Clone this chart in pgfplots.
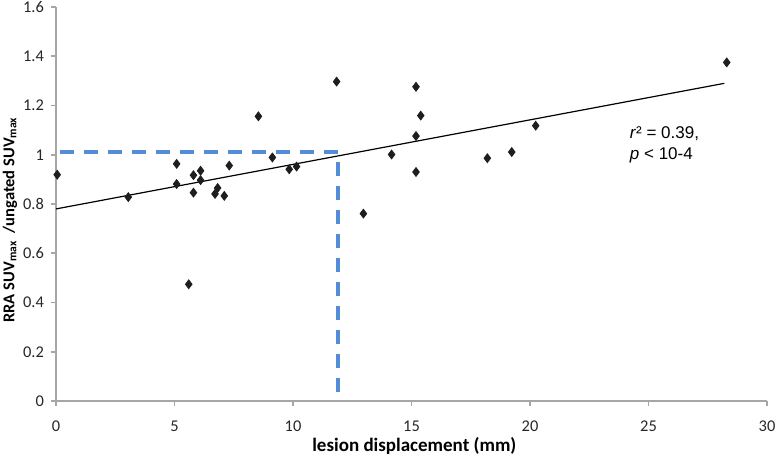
\documentclass[border=0pt]{standalone}
\usepackage{pgfplots}
\pgfplotsset{compat=1.18}
\usepackage{fontspec}
\setmainfont{Carlito}
\newfontfamily\arialfont{Liberation Sans}
\definecolor{dashblue}{RGB}{83,141,213}
\definecolor{axgray}{RGB}{166,166,166}
\definecolor{mk}{RGB}{30,30,30}
\begin{document}
\begin{tikzpicture}
\begin{axis}[
  at={(0,0)}, anchor=south west,
  scale only axis, width=355.5pt, height=197pt,
  xmin=0, xmax=30, ymin=0, ymax=1.6,
  xtick={0,5,...,30}, ytick={0,0.2,...,1.6},
  axis lines*=left,
  axis line style={axgray, line width=0.8pt},
  tick style={axgray, line width=0.8pt},
  tick align=outside, major tick length=2.5pt,
  /pgf/number format/assume math mode=true,
  ticklabel style={font=\fontsize{8.2}{10}\selectfont, text=black!85},
  xticklabel style={yshift=-4pt},
  xlabel={\fontsize{9.5}{11}\selectfont\bfseries lesion displacement (mm)},
  ylabel={\fontsize{8.25}{10}\selectfont\bfseries RRA SUV\textsubscript{max}\hspace{0.45em}/ungated SUV\textsubscript{max}},
  every axis x label/.style={at={(rel axis cs:0.504,0)}, yshift=-22.5pt, anchor=center},
  every axis y label/.style={at={(rel axis cs:0,0.46)}, xshift=-23pt, rotate=90, anchor=center},
  clip=false,
]
\addplot[dashblue, line width=2pt, dash pattern=on 7pt off 5pt] coordinates {(0.15,1.01) (11.9,1.01) (11.9,0)};
\addplot[black, line width=0.6pt] coordinates {(0,0.78) (28.2,1.29)};
\addplot[only marks, mark=diamond*, mark size=2.2pt, mk, mark options={fill=mk, draw=mk}] coordinates {
(0.05,0.919) (3.05,0.828) (5.09,0.963) (5.09,0.881) (5.8,0.917) (6.1,0.935)
(6.1,0.897) (5.8,0.846) (6.71,0.841) (6.82,0.865) (7.1,0.833) (7.31,0.956)
(5.6,0.474) (8.54,1.156) (11.84,1.297) (15.19,1.276) (15.39,1.159) (15.19,1.076)
(14.16,1.001) (15.19,0.93) (12.97,0.761) (9.13,0.989) (9.84,0.941) (10.15,0.952)
(28.3,1.375) (20.24,1.118) (19.23,1.011) (18.2,0.986)
};
\node[anchor=north west, align=left, inner sep=0pt, font=\arialfont\fontsize{8.5}{10.5}\selectfont]
  at (axis cs:24.2,1.115) {\textit{r}² = 0.39,\\ \textit{p} < 10-4};
\end{axis}
\pgfresetboundingbox
\useasboundingbox (-28pt,-27pt) rectangle (362pt,200.5pt);
\end{tikzpicture}
\end{document}
